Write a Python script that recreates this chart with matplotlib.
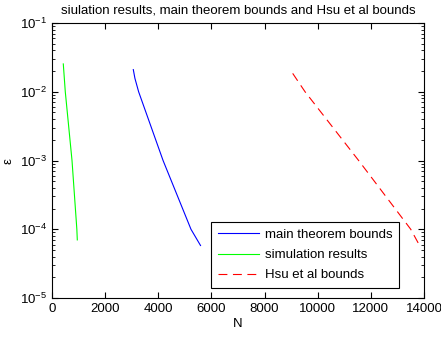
import numpy as np
from matplotlib import pyplot as plt

plt.rcParams['font.family'] = ['Liberation Sans', 'DejaVu Sans']

# values
main_n = [3060, 3120, 3260, 4180, 5230, 5590]
main_eps = [0.021, 0.0157, 0.01, 0.001, 0.0001, 0.000058]

sim_n = [425, 500, 753, 935, 952]
sim_eps = [0.0254, 0.01, 0.001, 0.0001, 0.00007]

hsu_n = [9058, 9523, 11540, 13500, 13823]
hsu_eps = [0.0185, 0.01, 0.001, 0.0001, 0.000059]

labels = ['main theorem bounds', 'simulation results', 'Hsu et al bounds']

fs = 9.5
fig = plt.figure(figsize=(4.41, 3.41), dpi=100)
ax = fig.add_axes([52 / 441, 1 - 298 / 341, 372 / 441, 275 / 341])

ax.semilogy(main_n, main_eps, color='#0000ff', lw=0.8, label=labels[0])
ax.semilogy(sim_n, sim_eps, color='#00ff00', lw=0.8, label=labels[1])
ax.semilogy(hsu_n, hsu_eps, color='#ff0000', lw=0.8, ls=(0, (8, 5)), label=labels[2])

ax.set_xlim(0, 14000)
ax.set_ylim(1e-5, 1e-1)
ax.set_xticks(np.arange(0, 14001, 2000))
ax.tick_params(which='both', direction='in', top=True, right=True, labelsize=fs)
ax.tick_params(which='major', length=4)
ax.tick_params(which='minor', length=2)
for s in ax.spines.values():
    s.set_linewidth(0.8)

ax.set_xlabel('N', fontsize=fs, labelpad=2)
ax.set_ylabel('ε', fontsize=fs, labelpad=4)
ax.set_title('siulation results, main theorem bounds and Hsu et al bounds', fontsize=fs, pad=7)

leg = ax.legend(loc='lower right', bbox_to_anchor=(399 / 441, 1 - 288 / 341),
                bbox_transform=fig.transFigure, fontsize=fs, fancybox=False,
                edgecolor='black', framealpha=1, handlelength=3.1,
                handletextpad=0.45, borderaxespad=0, labelspacing=0.6,
                borderpad=0.5)
leg.get_frame().set_linewidth(0.8)

plt.savefig('out.png', dpi=100)
